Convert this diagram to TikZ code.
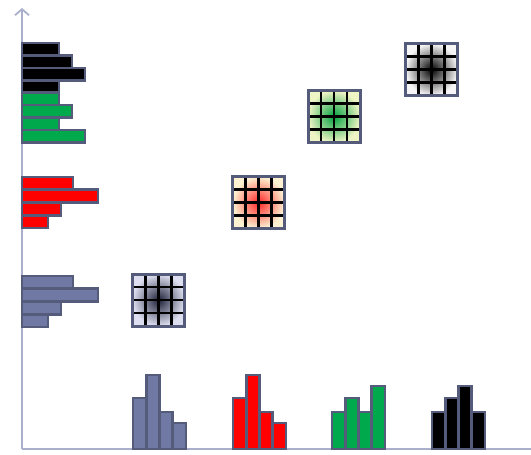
\documentclass[tikz,border=0pt]{standalone}
\usetikzlibrary{arrows.meta}
\definecolor{axiscol}{HTML}{A9AFCC}
\definecolor{edgecol}{HTML}{555B7A}
\definecolor{bluebar}{HTML}{7079A3}
\definecolor{redbar}{HTML}{FF0000}
\definecolor{greenbar}{HTML}{00AA4C}
\definecolor{blackbar}{HTML}{000000}
\definecolor{blueout}{HTML}{DDDFF0}
\definecolor{bluein}{HTML}{1E2038}
\definecolor{redout}{HTML}{FCF2D2}
\definecolor{redin}{HTML}{FF2828}
\definecolor{greenout}{HTML}{EEF4C4}
\definecolor{greenin}{HTML}{00A040}
\definecolor{blackout}{HTML}{F6F6F6}
\definecolor{blackin}{HTML}{000000}
\tikzset{
  axisline/.style={draw=axiscol, line width=2.2pt},
  barbox/.style={draw=edgecol, line width=2.6pt},
  gridline/.style={draw=black, line width=2.1pt},
  gridframe/.style={draw=edgecol, line width=3pt},
}
\newcommand\gridsq[4]{%
  \begin{scope}[shift={(#1,#2)}]
    \shade[inner color=#4, outer color=#3] (-26,-26) rectangle (26,26);
    \foreach \t in {-13,0,13} {
      \draw[gridline] (\t,-26) -- (\t,26);
      \draw[gridline] (-26,\t) -- (26,\t);
    }
    \draw[gridframe] (-26,-26) rectangle (26,26);
  \end{scope}}
\begin{document}
\begin{tikzpicture}[x=1pt,y=-1pt]
\useasboundingbox (0,0) rectangle (531,455);
% axes
\coordinate (O) at (22,449);
\coordinate (Ytop) at (22,8);
\coordinate (Xend) at (531,449);
\draw[axisline, -{Straight Barb[length=6pt,width=14pt,line width=1.8pt]}] (O) -- (Ytop);
\draw[axisline] (O) -- (Xend);
% left horizontal histograms
\foreach \L [count=\i from 0] in {51,76,39,26}
  \draw[barbox, fill=bluebar] (22,276+\i*12.75) rectangle (22+\L,276+\i*12.75+12.75);
\foreach \L [count=\i from 0] in {51,76,39,26}
  \draw[barbox, fill=redbar] (22,177+\i*12.75) rectangle (22+\L,177+\i*12.75+12.75);
\foreach \L [count=\i from 0] in {37,50,63,37}
  \draw[barbox, fill=blackbar] (22,43+\i*12.4) rectangle (22+\L,43+\i*12.4+12.4);
\foreach \L [count=\i from 0] in {37,50,37,63}
  \draw[barbox, fill=greenbar] (22,92.6+\i*12.4) rectangle (22+\L,92.6+\i*12.4+12.4);
% bottom vertical histograms
\foreach \H [count=\i from 0] in {51,74,37,26}
  \draw[barbox, fill=bluebar] (133+\i*13.2,449) rectangle (133+\i*13.2+13.2,449-\H);
\foreach \H [count=\i from 0] in {51,74,37,26}
  \draw[barbox, fill=redbar] (233+\i*13.2,449) rectangle (233+\i*13.2+13.2,449-\H);
\foreach \H [count=\i from 0] in {37,51,37,63}
  \draw[barbox, fill=greenbar] (332+\i*13.2,449) rectangle (332+\i*13.2+13.2,449-\H);
\foreach \H [count=\i from 0] in {37,51,63,37}
  \draw[barbox, fill=blackbar] (432+\i*13.2,449) rectangle (432+\i*13.2+13.2,449-\H);
% joint-histogram grids
\gridsq{158.5}{300}{blueout}{bluein}
\gridsq{258.5}{202.5}{redout}{redin}
\gridsq{334}{116.5}{greenout}{greenin}
\gridsq{431.5}{69.5}{blackout}{blackin}
\end{tikzpicture}
\end{document}
